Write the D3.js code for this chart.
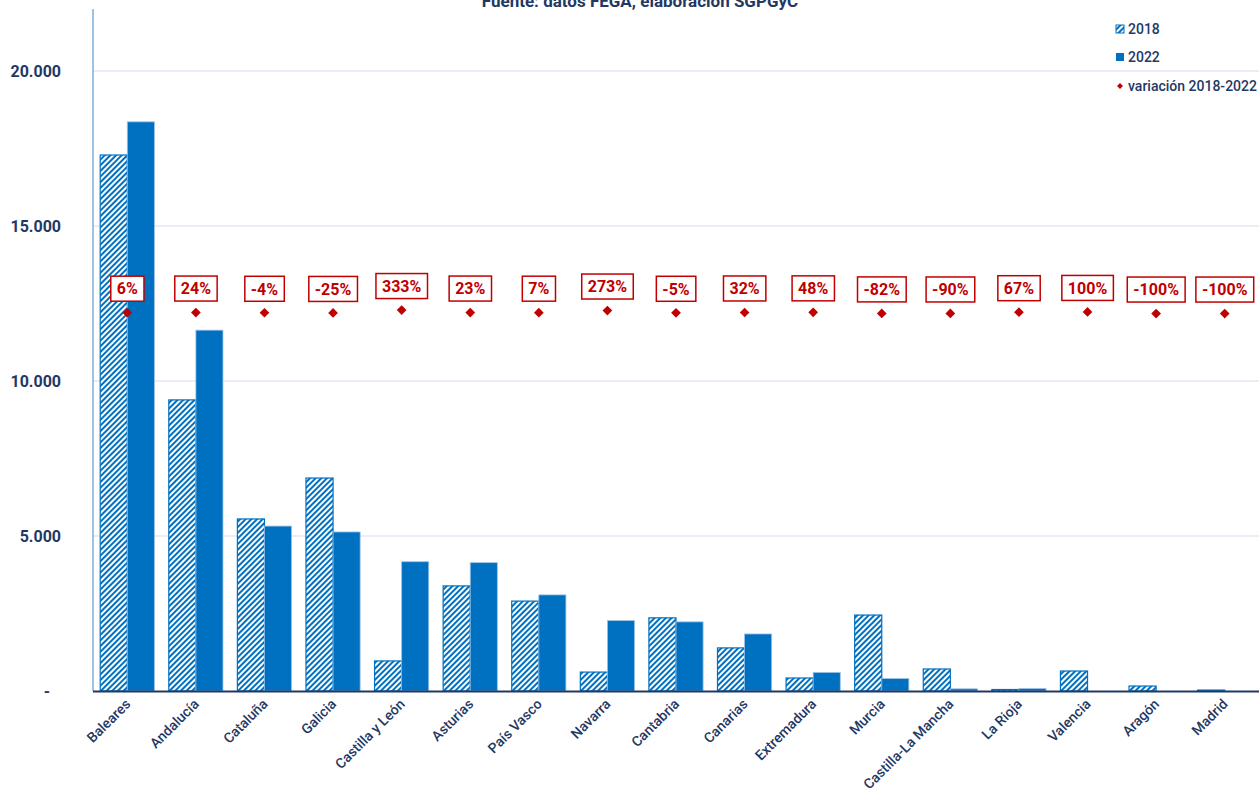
<!DOCTYPE html>
<meta charset="utf-8">
<script src="https://d3js.org/d3.v7.min.js"></script>
<style>
body { margin: 0; background: #fff; font-family: 'Roboto', sans-serif; }
svg { display: block; }
text { fill: #1f3864; }
.tick-y { font-size: 16px; font-weight: 700; }
.cat { font-size: 14px; font-weight: 500; }
.lab text { font-size: 16px; font-weight: 700; fill: #c00000; }
.legend text { font-size: 14px; font-weight: 500; }
.title { font-size: 17px; font-weight: 700; }
</style>
<body>
<svg width="1259" height="796"></svg>
<script>
const regions = ['Baleares', 'Andalucía', 'Cataluña', 'Galicia', 'Castilla y León', 'Asturias',
  'País Vasco', 'Navarra', 'Cantabria', 'Canarias', 'Extremadura', 'Murcia',
  'Castilla-La Mancha', 'La Rioja', 'Valencia', 'Aragón', 'Madrid'];
const values2018 = [17290, 9390, 5550, 6870, 970, 3390, 2900, 610, 2360, 1390, 420, 2450, 710, 48, 645, 160, 30];
const values2022 = [18360, 11640, 5320, 5130, 4170, 4140, 3100, 2270, 2230, 1840, 600, 400, 70, 80, 0, 0, 0];
const variation = [6, 24, -4, -25, 333, 23, 7, 273, -5, 32, 48, -82, -90, 67, 100, -100, -100];
const varLabels = ['6%', '24%', '-4%', '-25%', '333%', '23%', '7%', '273%', '-5%', '32%', '48%', '-82%', '-90%', '67%', '100%', '-100%', '-100%'];
const yTicks = [0, 5000, 10000, 15000, 20000];
const yTickLabels = ['-', '5.000', '10.000', '15.000', '20.000'];

const svg = d3.select('svg');
const mLeft = 93, mRight = 1259, mTop = 9, mBottom = 691;
const blue = '#0070c0', red = '#c00000';

const defs = svg.append('defs');
const pat = defs.append('pattern')
  .attr('id', 'hatch').attr('patternUnits', 'userSpaceOnUse')
  .attr('width', 4).attr('height', 4)
  .attr('patternTransform', 'rotate(45)');
pat.append('rect').attr('width', 4).attr('height', 4).attr('fill', '#fff');
pat.append('rect').attr('width', 2).attr('height', 4).attr('fill', blue);

const x0 = d3.scaleBand().domain(regions).range([mLeft, mRight])
  .paddingInner(0.21).paddingOuter(0.105);
const x1 = d3.scaleBand().domain(['2018', '2022']).range([0, x0.bandwidth()]);
const y = d3.scaleLinear().domain([0, 22000]).range([mBottom, mTop]);
const y2 = d3.scaleLinear().domain([-46700, 37500]).range([mBottom, mTop]);

// title (cut at top, as in the original)
svg.append('text').attr('class', 'title')
  .attr('x', 640).attr('y', 7).attr('text-anchor', 'middle')
  .text('Fuente: datos FEGA, elaboración SGPGyC');

// grid
svg.append('g').selectAll('line').data(yTicks.slice(1)).join('line')
  .attr('x1', mLeft).attr('x2', mRight)
  .attr('y1', d => y(d)).attr('y2', d => y(d))
  .attr('stroke', '#d9d9ee').attr('stroke-width', 1);

// y tick labels
svg.append('g').selectAll('text').data(yTicks).join('text')
  .attr('class', 'tick-y')
  .attr('x', d => d === 0 ? 50 : 61)
  .attr('y', d => y(d) + 6)
  .attr('text-anchor', 'end')
  .text((d, i) => yTickLabels[i]);

// bars
const groups = svg.append('g').selectAll('g').data(regions).join('g')
  .attr('transform', d => `translate(${x0(d)},0)`);
groups.append('rect')
  .attr('x', x1('2018')).attr('width', x1.bandwidth())
  .attr('y', (d, i) => y(values2018[i]))
  .attr('height', (d, i) => mBottom - y(values2018[i]))
  .attr('fill', 'url(#hatch)').attr('stroke', blue).attr('stroke-width', 1.2);
groups.append('rect')
  .attr('x', x1('2022')).attr('width', x1.bandwidth())
  .attr('y', (d, i) => y(values2022[i]))
  .attr('height', (d, i) => mBottom - y(values2022[i]))
  .attr('fill', blue).attr('stroke', '#9dc3e6').attr('stroke-width', 0.8);

// axes lines
svg.append('line').attr('x1', mLeft).attr('x2', mLeft).attr('y1', mTop).attr('y2', mBottom)
  .attr('stroke', '#5b9bd5').attr('stroke-width', 1.2);
svg.append('line').attr('x1', mLeft).attr('x2', mRight).attr('y1', mBottom + 0.5).attr('y2', mBottom + 0.5)
  .attr('stroke', '#1f3864').attr('stroke-width', 2);

// category labels
svg.append('g').selectAll('text').data(regions).join('text')
  .attr('class', 'cat')
  .attr('text-anchor', 'end')
  .attr('transform', d => `translate(${x0(d) + x0.bandwidth() / 2 + 4},${mBottom + 14}) rotate(-45)`)
  .text(d => d);

// variation markers + labels
const diamond = d3.symbol().type(d3.symbolDiamond2).size(60);
const marks = svg.append('g').selectAll('g').data(regions).join('g')
  .attr('transform', (d, i) => `translate(${x0(d) + x0.bandwidth() / 2},${y2(variation[i])})`);
marks.append('path').attr('d', diamond).attr('fill', red);
const labs = marks.append('g').attr('class', 'lab').attr('transform', 'translate(0,-24)');
labs.append('text')
  .attr('text-anchor', 'middle').attr('dy', '0.36em')
  .text((d, i) => varLabels[i]);
labs.each(function () {
  const g = d3.select(this);
  const bb = g.select('text').node().getBBox();
  g.insert('rect', 'text')
    .attr('x', bb.x - 6).attr('y', -12.5)
    .attr('width', bb.width + 12).attr('height', 25)
    .attr('fill', '#fff').attr('stroke', red).attr('stroke-width', 1.5);
});

// legend
const legend = svg.append('g').attr('class', 'legend').attr('transform', 'translate(1116,0)');
legend.append('rect').attr('x', 0).attr('y', 25).attr('width', 8).attr('height', 8)
  .attr('fill', 'url(#hatch)').attr('stroke', blue);
legend.append('text').attr('x', 12).attr('y', 34).text('2018');
legend.append('rect').attr('x', 0).attr('y', 53).attr('width', 8).attr('height', 8)
  .attr('fill', blue);
legend.append('text').attr('x', 12).attr('y', 62).text('2022');
legend.append('path').attr('d', d3.symbol().type(d3.symbolDiamond2).size(22))
  .attr('transform', 'translate(4,86)').attr('fill', red);
legend.append('text').attr('x', 12).attr('y', 91).text('variación 2018-2022');
</script>
</body>
